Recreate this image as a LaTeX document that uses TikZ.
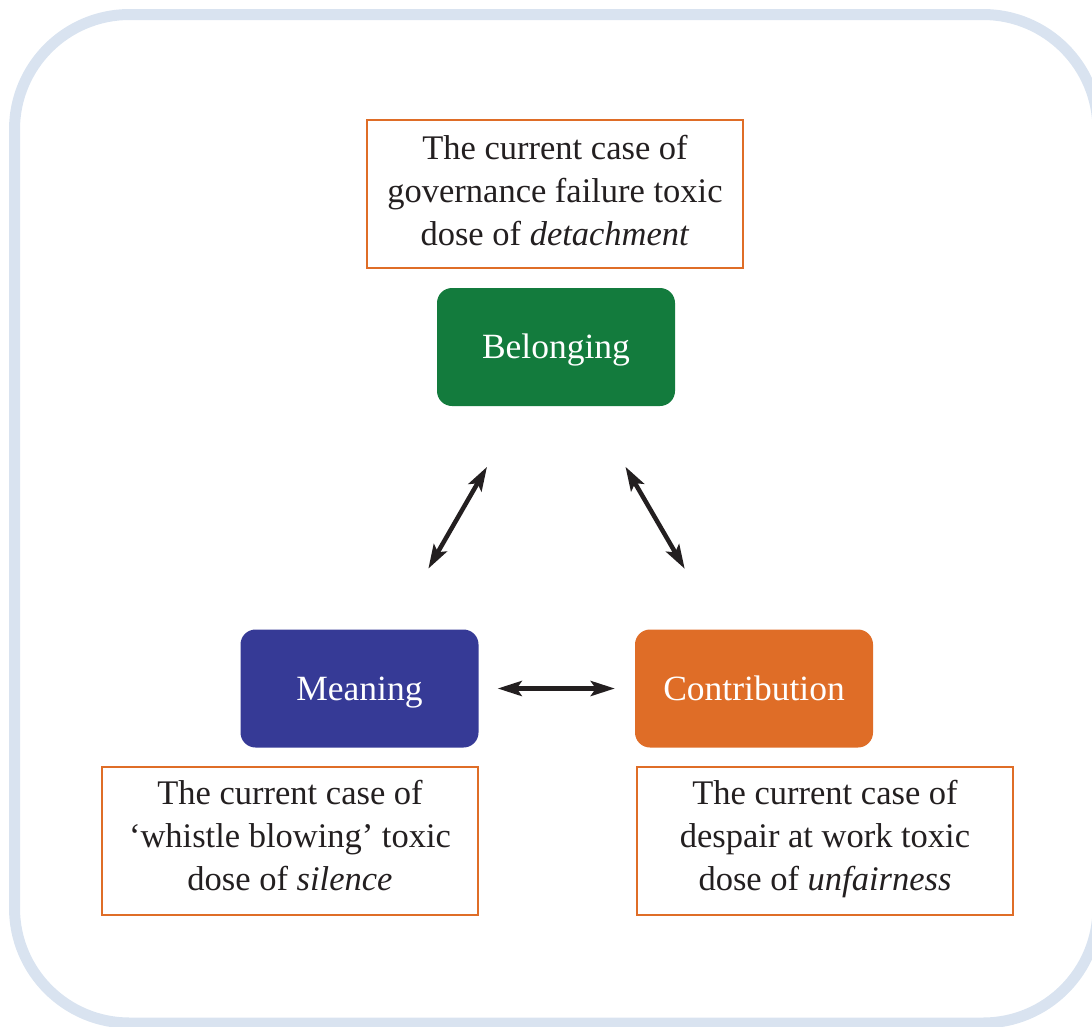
\documentclass[tikz,border=0pt]{standalone}
\usepackage{fontspec}
\setmainfont{Liberation Serif}
\usetikzlibrary{arrows.meta}
\definecolor{framecol}{HTML}{D9E3F0}
\definecolor{boxorange}{HTML}{DF6D27}
\definecolor{belgreen}{HTML}{137B3D}
\definecolor{meanblue}{HTML}{363A96}
\definecolor{arrowcol}{HTML}{231F20}
\definecolor{textcol}{HTML}{231F20}
\newcommand{\lnstrut}{\rule[-12.9pt]{0pt}{43pt}}
\tikzset{
  textbox/.style={draw=boxorange, line width=2.5pt, fill=white, minimum width=376pt, minimum height=148pt,
    inner sep=0pt},
  boxtext/.style={align=center, text=textcol, inner sep=0pt, font=\fontsize{34.5}{43}\selectfont},
  colbox/.style={rounded corners=15pt, minimum width=238pt, minimum height=118pt, text=white,
    inner sep=0pt, text height=24pt, text depth=1pt, font=\fontsize{35.5}{40}\selectfont},
  dblarrow/.style={draw=arrowcol, line width=4.5pt, {Stealth[length=24pt,width=15pt,inset=5pt]}-{Stealth[length=24pt,width=15pt,inset=5pt]}}
}
\begin{document}
\begin{tikzpicture}[x=1pt,y=-1pt]
\useasboundingbox (0,0) rectangle (1092,1026);
\begin{scope}
\clip (0,0) rectangle (1092,1026);
\draw[framecol, line width=11pt, rounded corners=115pt] (14.5,14.5) rectangle (1098,1023);
\end{scope}

\node[textbox] (topbox) at (555,194) {};
\node[textbox] (leftbox) at (290,841) {};
\node[textbox] (rightbox) at (825,841) {};
\node[boxtext] (toptext) at (topbox.center) {\lnstrut The current case of\\\lnstrut governance failure toxic\\\lnstrut dose of \textit{detachment}};
\node[boxtext, yshift=2pt] (lefttext) at (leftbox.center) {\lnstrut The current case of\\\lnstrut `whistle blowing' toxic\\\lnstrut dose of \textit{silence}};
\node[boxtext, yshift=2pt] (righttext) at (rightbox.center) {\lnstrut The current case of\\\lnstrut despair at work toxic\\\lnstrut dose of \textit{unfairness}};

\node[colbox, fill=belgreen] (bel) at (556,347) {Belonging};
\node[colbox, fill=meanblue] (mean) at (359.5,688.5) {Meaning};
\node[colbox, fill=boxorange] (contr) at (754,688.5) {Contribution};

\draw[dblarrow, shorten <=70pt, shorten >=70pt] (bel) -- (mean);
\draw[dblarrow, shorten <=70pt, shorten >=70pt] (bel) -- (contr);
\draw[dblarrow, shorten <=19pt, shorten >=20pt] (mean) -- (contr);
\end{tikzpicture}
\end{document}
